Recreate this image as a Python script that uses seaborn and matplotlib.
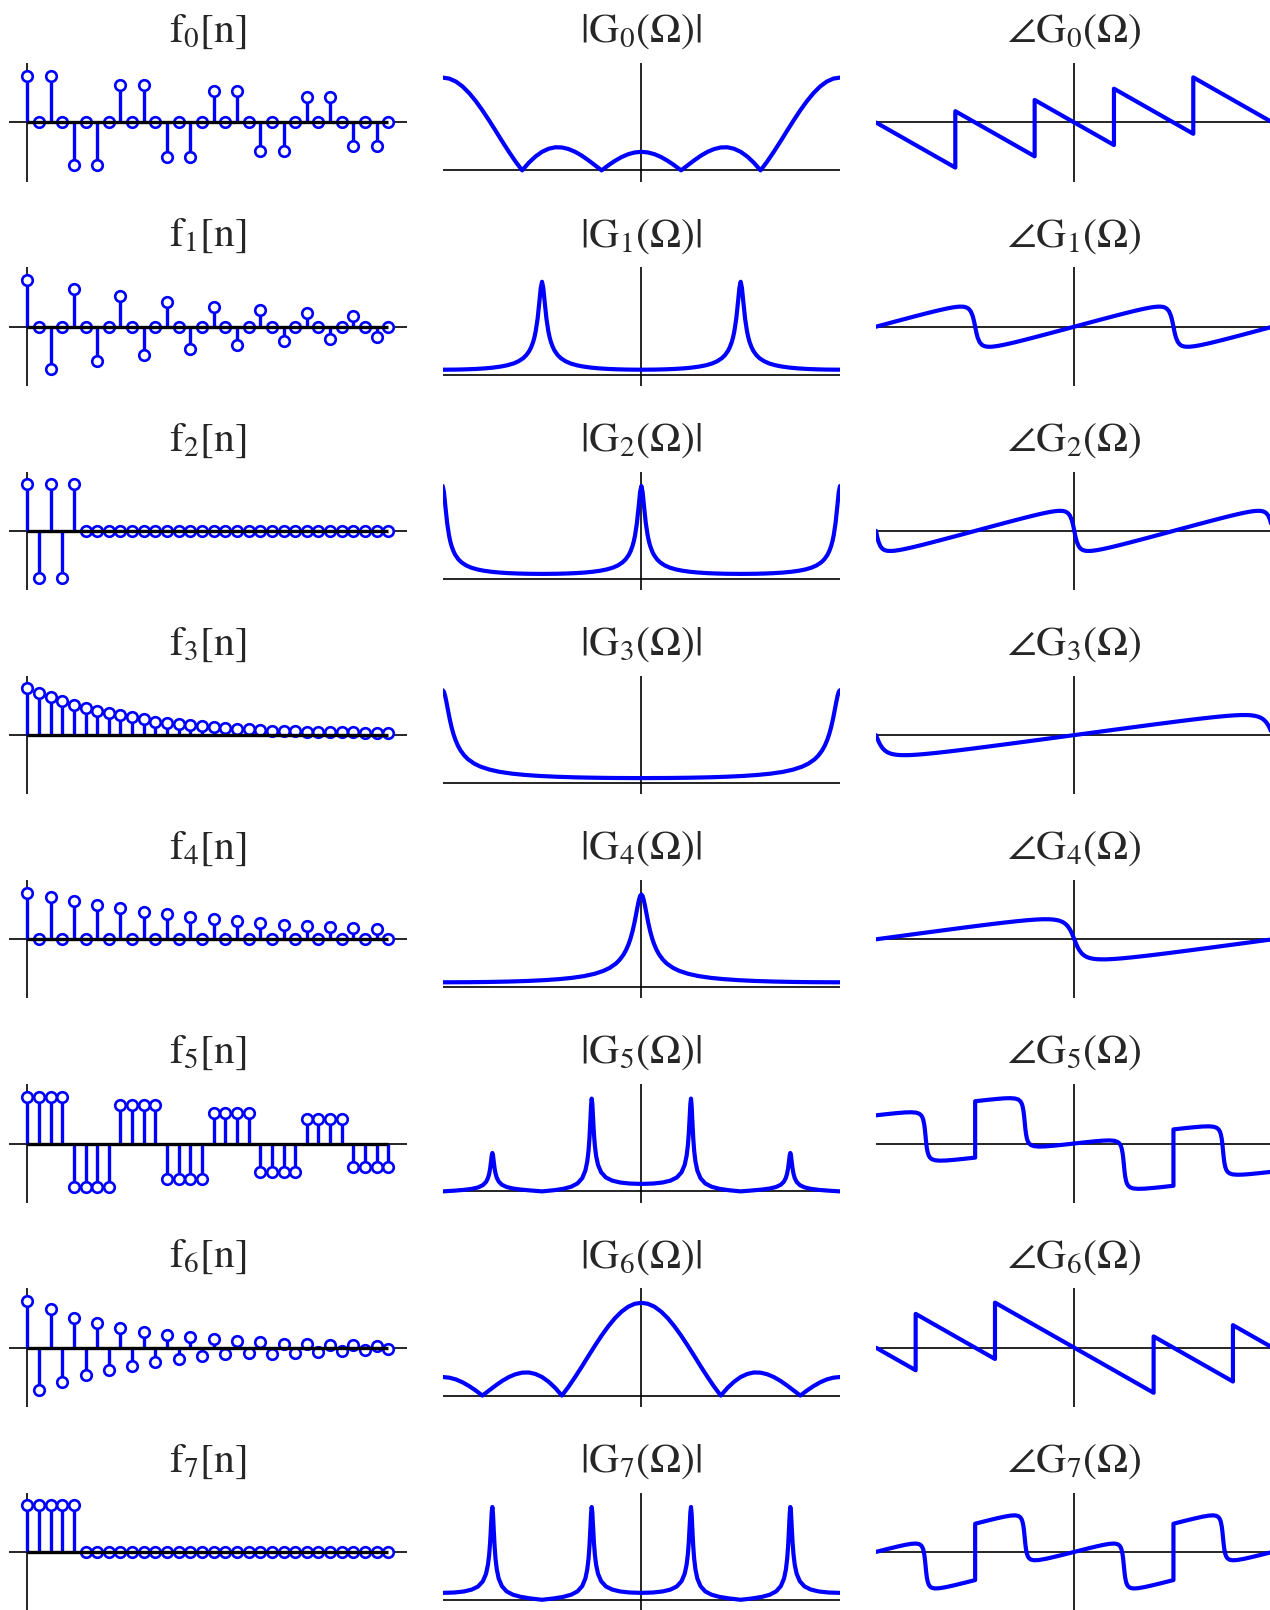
import matplotlib
matplotlib.use("Agg")
import matplotlib.pyplot as plt
import numpy as np
import pandas as pd
import seaborn as sns

sns.set_theme(style="white")
plt.rcParams["font.family"] = ["STIXGeneral", "DejaVu Serif"]
plt.rcParams["mathtext.fontset"] = "stix"

BLUE = "#0000ff"

# ---------------- sequences f_k[n] (left column) ----------------
n_idx = list(range(32))
f0 = [1, 0, 1, 0, -0.907, 0, -0.907, 0, 0.807, 0, 0.807, 0, -0.743, 0, -0.743, 0,
      0.664, 0, 0.664, 0, -0.6, 0, -0.6, 0, 0.536, 0, 0.536, 0, -0.493, 0, -0.493, 0]
f1 = [1, 0, -0.914, 0, 0.814, 0, -0.743, 0, 0.664, 0, -0.6, 0, 0.536, 0, -0.486, 0,
      0.429, 0, -0.393, 0, 0.35, 0, -0.314, 0, 0.286, 0, -0.257, 0, 0.236, 0, -0.214, 0]
f2 = [1, -1, 1, -1, 1, 0, 0, 0, 0, 0, 0, 0, 0, 0, 0, 0,
      0, 0, 0, 0, 0, 0, 0, 0, 0, 0, 0, 0, 0, 0, 0, 0]
f3 = [1.0, 0.895, 0.811, 0.72, 0.65, 0.58, 0.517, 0.469, 0.427, 0.378, 0.336, 0.287,
      0.266, 0.231, 0.21, 0.189, 0.168, 0.147, 0.14, 0.126, 0.112, 0.098, 0.091, 0.077,
      0.07, 0.07, 0.063, 0.056, 0.056, 0.049, 0.049, 0.049]
f4 = [1, 0, 0.894, 0, 0.809, 0, 0.73, 0, 0.66, 0, 0.589, 0, 0.532, 0, 0.482, 0,
      0.433, 0, 0.383, 0, 0.348, 0, 0.312, 0, 0.277, 0, 0.255, 0, 0.234, 0, 0.213, 0]
f5 = [1, 1, 1, 1, -0.93, -0.93, -0.93, -0.93, 0.814, 0.814, 0.814, 0.814,
      -0.757, -0.757, -0.757, -0.757, 0.657, 0.657, 0.657, 0.657, -0.607, -0.607, -0.607, -0.607,
      0.514, 0.514, 0.514, 0.514, -0.5, -0.5, -0.5, -0.5]
f6 = [1, -0.9, 0.824, -0.732, 0.641, -0.59, 0.528, -0.486, 0.43, -0.387, 0.345, -0.31,
      0.275, -0.246, 0.225, -0.183, 0.176, -0.134, 0.141, -0.113, 0.113, -0.127, 0.085, -0.106,
      0.077, -0.092, 0.056, -0.063, 0.049, -0.056, 0.042, -0.028]
f7 = [1, 1, 1, 1, 1, 0, 0, 0, 0, 0, 0, 0, 0, 0, 0, 0,
      0, 0, 0, 0, 0, 0, 0, 0, 0, 0, 0, 0, 0, 0, 0, 0]

# ---------------- spectra (middle: normalised magnitude, right: phase in rad) ----------------
omega_30 = [-3.1416, -3.0369, -2.9322, -2.8274, -2.7227, -2.6180, -2.5133, -2.4086, -2.3038, -2.1991,
            -2.0944, -1.9897, -1.8850, -1.7802, -1.6755, -1.5708, -1.4661, -1.3614, -1.2566, -1.1519,
            -1.0472, -0.9425, -0.8378, -0.7330, -0.6283, -0.5236, -0.4189, -0.3142, -0.2094, -0.1047,
            0.0, 0.1047, 0.2094, 0.3142, 0.4189, 0.5236, 0.6283, 0.7330, 0.8378, 0.9425,
            1.0472, 1.1519, 1.2566, 1.3614, 1.4661, 1.5708, 1.6755, 1.7802, 1.8850, 1.9897,
            2.0944, 2.1991, 2.3038, 2.4086, 2.5133, 2.6180, 2.7227, 2.8274, 2.9322, 3.0369, 3.1416]

mag_g0 = [1.0, 0.989, 0.957, 0.904, 0.833, 0.746, 0.647, 0.539, 0.426, 0.311, 0.2, 0.095, 0.0,
          0.082, 0.149, 0.2, 0.233, 0.249, 0.247, 0.230, 0.2, 0.159, 0.109, 0.055, 0.0, 0.054,
          0.102, 0.143, 0.174, 0.193, 0.2,
          0.193, 0.174, 0.143, 0.102, 0.054, 0.0, 0.055, 0.109, 0.159, 0.2, 0.230, 0.247, 0.249,
          0.233, 0.2, 0.149, 0.082, 0.0, 0.095, 0.2, 0.311, 0.426, 0.539, 0.647, 0.746, 0.833,
          0.904, 0.957, 0.989, 1.0]
omega_ph_g0 = [-3.1416, -1.8850, -1.8850, -0.6283, -0.6283, 0.0, 0.6283, 0.6283, 1.8850, 1.8850, 3.1416]
phase_g0 = [0.0, -2.5133, 0.6283, -1.8850, 1.2566, 0.0, -1.2566, 1.8850, -0.6283, 2.5133, 0.0]

omega_g1 = [-3.1416, -2.9208, -2.7708, -2.6208, -2.4708, -2.3408, -2.2208, -2.1208, -2.0208, -1.9408,
            -1.8708, -1.8208, -1.7708, -1.7408, -1.7108, -1.6908, -1.6708, -1.6408, -1.6108, -1.5908,
            -1.5708, -1.5508, -1.5308, -1.5008, -1.4708, -1.4508, -1.4308, -1.4008, -1.3708, -1.3208,
            -1.2708, -1.2008, -1.1208, -1.0208, -0.9208, -0.8008, -0.6708, -0.5208, -0.3708, -0.2208,
            0.0, 0.2208, 0.3708, 0.5208, 0.6708, 0.8008, 0.9208, 1.0208, 1.1208, 1.2008,
            1.2708, 1.3208, 1.3708, 1.4008, 1.4308, 1.4508, 1.4708, 1.5008, 1.5308, 1.5508,
            1.5708, 1.5908, 1.6108, 1.6408, 1.6708, 1.6908, 1.7108, 1.7408, 1.7708, 1.8208,
            1.8708, 1.9408, 2.0208, 2.1208, 2.2208, 2.3408, 2.4708, 2.6208, 2.7708, 2.9208, 3.1416]
mag_g1 = [0.0526, 0.0539, 0.0565, 0.0606, 0.0671, 0.0755, 0.0868, 0.1003, 0.120, 0.1442,
          0.1756, 0.2083, 0.256, 0.2974, 0.353, 0.403, 0.467, 0.602, 0.797, 0.935,
          1.0, 0.935, 0.797, 0.602, 0.467, 0.403, 0.353, 0.2974, 0.256, 0.2083,
          0.1756, 0.1442, 0.120, 0.1003, 0.0868, 0.0755, 0.0671, 0.0606, 0.0565, 0.0539,
          0.0526, 0.0539, 0.0565, 0.0606, 0.0671, 0.0755, 0.0868, 0.1003, 0.120, 0.1442,
          0.1756, 0.2083, 0.256, 0.2974, 0.353, 0.403, 0.467, 0.602, 0.797, 0.935,
          1.0, 0.935, 0.797, 0.602, 0.467, 0.403, 0.353, 0.2974, 0.256, 0.2083,
          0.1756, 0.1442, 0.120, 0.1003, 0.0868, 0.0755, 0.0671, 0.0606, 0.0565, 0.0539, 0.0526]
phase_g1 = [0.0, 0.2090, 0.3503, 0.4904, 0.6288, 0.7465, 0.8518, 0.9351, 1.0121, 1.0661,
            1.1023, 1.1178, 1.1168, 1.1035, 1.0734, 1.0393, 0.9877, 0.8572, 0.6106, 0.3434,
            0.0, -0.3434, -0.6106, -0.8572, -0.9877, -1.0393, -1.0734, -1.1035, -1.1168, -1.1178,
            -1.1023, -1.0661, -1.0121, -0.9351, -0.8518, -0.7465, -0.6288, -0.4904, -0.3503, -0.2090,
            0.0, 0.2090, 0.3503, 0.4904, 0.6288, 0.7465, 0.8518, 0.9351, 1.0121, 1.0661,
            1.1023, 1.1178, 1.1168, 1.1035, 1.0734, 1.0393, 0.9877, 0.8572, 0.6106, 0.3434,
            0.0, -0.3434, -0.6106, -0.8572, -0.9877, -1.0393, -1.0734, -1.1035, -1.1168, -1.1178,
            -1.1023, -1.0661, -1.0121, -0.9351, -0.8518, -0.7465, -0.6288, -0.4904, -0.3503, -0.2090, 0.0]

omega_g2 = [-3.1416, -3.1216, -3.1016, -3.0716, -3.0416, -3.0216, -3.0016, -2.9716, -2.9416, -2.8916,
            -2.8416, -2.7716, -2.6916, -2.5916, -2.4916, -2.3716, -2.2416, -2.0916, -1.9416, -1.7916,
            -1.5708, -1.35, -1.2, -1.05, -0.9, -0.77, -0.65, -0.55, -0.45, -0.37,
            -0.3, -0.25, -0.2, -0.17, -0.14, -0.12, -0.1, -0.07, -0.04, -0.02,
            0.0, 0.02, 0.04, 0.07, 0.1, 0.12, 0.14, 0.17, 0.2, 0.25,
            0.3, 0.37, 0.45, 0.55, 0.65, 0.77, 0.9, 1.05, 1.2, 1.35,
            1.5708, 1.7916, 1.9416, 2.0916, 2.2416, 2.3716, 2.4916, 2.5916, 2.6916, 2.7716,
            2.8416, 2.8916, 2.9416, 2.9716, 3.0016, 3.0216, 3.0416, 3.0716, 3.1016, 3.1216, 3.1416]
mag_g2 = [1.0, 0.935, 0.797, 0.602, 0.467, 0.403, 0.353, 0.2974, 0.256, 0.2083,
          0.1756, 0.1442, 0.120, 0.1003, 0.0868, 0.0755, 0.0671, 0.0606, 0.0565, 0.0539,
          0.0526, 0.0539, 0.0565, 0.0606, 0.0671, 0.0755, 0.0868, 0.1003, 0.120, 0.1442,
          0.1756, 0.2083, 0.256, 0.2974, 0.353, 0.403, 0.467, 0.602, 0.797, 0.935,
          1.0, 0.935, 0.797, 0.602, 0.467, 0.403, 0.353, 0.2974, 0.256, 0.2083,
          0.1756, 0.1442, 0.120, 0.1003, 0.0868, 0.0755, 0.0671, 0.0606, 0.0565, 0.0539,
          0.0526, 0.0539, 0.0565, 0.0606, 0.0671, 0.0755, 0.0868, 0.1003, 0.120, 0.1442,
          0.1756, 0.2083, 0.256, 0.2974, 0.353, 0.403, 0.467, 0.602, 0.797, 0.935, 1.0]
phase_g2 = [0.0, -0.3434, -0.6106, -0.8572, -0.9877, -1.0393, -1.0734, -1.1035, -1.1168, -1.1178,
            -1.1023, -1.0661, -1.0121, -0.9351, -0.8518, -0.7465, -0.6288, -0.4904, -0.3503, -0.2090,
            0.0, 0.2090, 0.3503, 0.4904, 0.6288, 0.7465, 0.8518, 0.9351, 1.0121, 1.0661,
            1.1023, 1.1178, 1.1168, 1.1035, 1.0734, 1.0393, 0.9877, 0.8572, 0.6106, 0.3434,
            0.0, -0.3434, -0.6106, -0.8572, -0.9877, -1.0393, -1.0734, -1.1035, -1.1168, -1.1178,
            -1.1023, -1.0661, -1.0121, -0.9351, -0.8518, -0.7465, -0.6288, -0.4904, -0.3503, -0.2090,
            0.0, 0.2090, 0.3503, 0.4904, 0.6288, 0.7465, 0.8518, 0.9351, 1.0121, 1.0661,
            1.1023, 1.1178, 1.1168, 1.1035, 1.0734, 1.0393, 0.9877, 0.8572, 0.6106, 0.3434, 0.0]

omega_g3 = [-3.1416, -3.1216, -3.1016, -3.0816, -3.0616, -3.0316, -3.0016, -2.9716, -2.9416, -2.9016,
            -2.8616, -2.8016, -2.7416, -2.6416, -2.5416, -2.4016, -2.2416, -2.0416, -1.8416, -1.6016,
            -1.3416, -1.0416, -0.7416, -0.4416, 0.0,
            0.4416, 0.7416, 1.0416, 1.3416, 1.6016, 1.8416, 2.0416, 2.2416, 2.4016, 2.5416,
            2.6416, 2.7416, 2.8016, 2.8616, 2.9016, 2.9416, 2.9716, 3.0016, 3.0316, 3.0616,
            3.0816, 3.1016, 3.1216, 3.1416]
mag_g3 = [1.0, 0.9825, 0.935, 0.8691, 0.797, 0.692, 0.602, 0.5274, 0.467, 0.403,
          0.353, 0.2974, 0.256, 0.2083, 0.1756, 0.1442, 0.120, 0.1003, 0.0868, 0.0755,
          0.0671, 0.0606, 0.0565, 0.0539, 0.0526,
          0.0539, 0.0565, 0.0606, 0.0671, 0.0755, 0.0868, 0.1003, 0.120, 0.1442, 0.1756,
          0.2083, 0.256, 0.2974, 0.353, 0.403, 0.467, 0.5274, 0.602, 0.692, 0.797,
          0.8691, 0.935, 0.9825, 1.0]
phase_g3 = [0.0, -0.1778, -0.3434, -0.4880, -0.6106, -0.7531, -0.8572, -0.9327, -0.9877, -1.0393,
            -1.0734, -1.1035, -1.1168, -1.1178, -1.1023, -1.0661, -1.0121, -0.9351, -0.8518, -0.7465,
            -0.6288, -0.4904, -0.3503, -0.2090, 0.0,
            0.2090, 0.3503, 0.4904, 0.6288, 0.7465, 0.8518, 0.9351, 1.0121, 1.0661, 1.1023,
            1.1178, 1.1168, 1.1035, 1.0734, 1.0393, 0.9877, 0.9327, 0.8572, 0.7531, 0.6106,
            0.4880, 0.3434, 0.1778, 0.0]

omega_g4 = [-3.1416, -2.7, -2.4, -2.1, -1.8, -1.54, -1.3, -1.1, -0.9, -0.74,
            -0.6, -0.5, -0.4, -0.34, -0.28, -0.24, -0.2, -0.17, -0.14, -0.11,
            -0.08, -0.06, -0.04, -0.02, 0.0, 0.02, 0.04, 0.06, 0.08, 0.11,
            0.14, 0.17, 0.2, 0.24, 0.28, 0.34, 0.4, 0.5, 0.6, 0.74,
            0.9, 1.1, 1.3, 1.54, 1.8, 2.1, 2.4, 2.7, 3.1416]
mag_g4 = [0.0526, 0.0539, 0.0565, 0.0606, 0.0671, 0.0755, 0.0868, 0.1003, 0.120, 0.1442,
          0.1756, 0.2083, 0.256, 0.2974, 0.353, 0.403, 0.467, 0.5274, 0.602, 0.692,
          0.797, 0.8691, 0.935, 0.9825, 1.0, 0.9825, 0.935, 0.8691, 0.797, 0.692,
          0.602, 0.5274, 0.467, 0.403, 0.353, 0.2974, 0.256, 0.2083, 0.1756, 0.1442,
          0.120, 0.1003, 0.0868, 0.0755, 0.0671, 0.0606, 0.0565, 0.0539, 0.0526]
phase_g4 = [0.0, 0.2090, 0.3503, 0.4904, 0.6288, 0.7465, 0.8518, 0.9351, 1.0121, 1.0661,
            1.1023, 1.1178, 1.1168, 1.1035, 1.0734, 1.0393, 0.9877, 0.9327, 0.8572, 0.7531,
            0.6106, 0.4880, 0.3434, 0.1778, 0.0, -0.1778, -0.3434, -0.4880, -0.6106, -0.7531,
            -0.8572, -0.9327, -0.9877, -1.0393, -1.0734, -1.1035, -1.1168, -1.1178, -1.1023, -1.0661,
            -1.0121, -0.9351, -0.8518, -0.7465, -0.6288, -0.4904, -0.3503, -0.2090, 0.0]

omega_q = [-3.1416, -2.9562, -2.8062, -2.6812, -2.5812, -2.5062, -2.4562, -2.4262, -2.4062, -2.3912,
           -2.3762, -2.3662, -2.3562, -2.3462, -2.3362, -2.3212, -2.3062, -2.2862, -2.2562, -2.2062,
           -2.1312, -2.0312, -1.9062, -1.7562, -1.5708,
           -1.5708, -1.3854, -1.2354, -1.1104, -1.0104, -0.9354, -0.8854, -0.8554, -0.8354, -0.8204,
           -0.8054, -0.7954, -0.7854, -0.7754, -0.7654, -0.7504, -0.7354, -0.7154, -0.6854, -0.6354,
           -0.5604, -0.4604, -0.3354, -0.1854, 0.0,
           0.1854, 0.3354, 0.4604, 0.5604, 0.6354, 0.6854, 0.7154, 0.7354, 0.7504, 0.7654,
           0.7754, 0.7854, 0.7954, 0.8054, 0.8204, 0.8354, 0.8554, 0.8854, 0.9354, 1.0104,
           1.1104, 1.2354, 1.3854, 1.5708,
           1.5708, 1.7562, 1.9062, 2.0312, 2.1312, 2.2062, 2.2562, 2.2862, 2.3062, 2.3212,
           2.3362, 2.3462, 2.3562, 2.3662, 2.3762, 2.3912, 2.4062, 2.4262, 2.4562, 2.5062,
           2.5812, 2.6812, 2.8062, 2.9562, 3.1416]

mag_g5 = [0.0, 0.0079, 0.0162, 0.0272, 0.0430, 0.0676, 0.1019, 0.1428, 0.1906, 0.2470,
          0.3286, 0.3865, 0.4142, 0.3881, 0.3313, 0.2507, 0.1946, 0.1470, 0.1063, 0.0719,
          0.0473, 0.0311, 0.0196, 0.0102, 0.0,
          0.0, 0.0123, 0.0276, 0.0502, 0.0854, 0.1424, 0.2242, 0.3223, 0.4382, 0.5761,
          0.7775, 0.9235, 1.0, 0.9461, 0.8160, 0.6270, 0.4946, 0.3821, 0.2858, 0.2055,
          0.1495, 0.1159, 0.0956, 0.0846, 0.0805,
          0.0846, 0.0956, 0.1159, 0.1495, 0.2055, 0.2858, 0.3821, 0.4946, 0.6270, 0.8160,
          0.9461, 1.0, 0.9235, 0.7775, 0.5761, 0.4382, 0.3223, 0.2242, 0.1424, 0.0854,
          0.0502, 0.0276, 0.0123, 0.0,
          0.0, 0.0102, 0.0196, 0.0311, 0.0473, 0.0719, 0.1063, 0.1470, 0.1946, 0.2507,
          0.3313, 0.3881, 0.4142, 0.3865, 0.3286, 0.2470, 0.1906, 0.1428, 0.1019, 0.0676,
          0.0430, 0.0272, 0.0162, 0.0079, 0.0]
phase_g5 = [1.5708, 1.6430, 1.6965, 1.7320, 1.7423, 1.7200, 1.6595, 1.5711, 1.4554, 1.3024,
            1.0333, 0.7511, 0.3927, 0.0343, -0.2479, -0.5170, -0.6700, -0.7857, -0.8741, -0.9346,
            -0.9569, -0.9466, -0.9111, -0.8576, -0.7854,
            2.3562, 2.4284, 2.4819, 2.5174, 2.5277, 2.5054, 2.4449, 2.3565, 2.2408, 2.0878,
            1.8187, 1.5365, 1.1781, 0.8197, 0.5375, 0.2684, 0.1154, -0.0003, -0.0887, -0.1492,
            -0.1715, -0.1612, -0.1257, -0.0722, 0.0,
            0.0722, 0.1257, 0.1612, 0.1715, 0.1492, 0.0887, 0.0003, -0.1154, -0.2684, -0.5375,
            -0.8197, -1.1781, -1.5365, -1.8187, -2.0878, -2.2408, -2.3565, -2.4449, -2.5054, -2.5277,
            -2.5174, -2.4819, -2.4284, -2.3562,
            0.7854, 0.8576, 0.9111, 0.9466, 0.9569, 0.9346, 0.8741, 0.7857, 0.6700, 0.5170,
            0.2479, -0.0343, -0.3927, -0.7511, -1.0333, -1.3024, -1.4554, -1.5711, -1.6595, -1.7200,
            -1.7423, -1.7320, -1.6965, -1.6430, -1.5708]

mag_g6 = [0.2, 0.193, 0.174, 0.143, 0.102, 0.054, 0.0, 0.055, 0.109, 0.159, 0.2, 0.230, 0.247,
          0.249, 0.233, 0.2, 0.149, 0.082, 0.0, 0.095, 0.2, 0.311, 0.426, 0.539, 0.647, 0.746,
          0.833, 0.904, 0.957, 0.989, 1.0,
          0.989, 0.957, 0.904, 0.833, 0.746, 0.647, 0.539, 0.426, 0.311, 0.2, 0.095, 0.0, 0.082,
          0.149, 0.2, 0.233, 0.249, 0.247, 0.230, 0.2, 0.159, 0.109, 0.055, 0.0, 0.054, 0.102,
          0.143, 0.174, 0.193, 0.2]
omega_ph_g6 = [-3.1416, -2.5133, -2.5133, -1.2566, -1.2566, 0.0, 1.2566, 1.2566, 2.5133, 2.5133, 3.1416]
phase_g6 = [0.0, -1.2566, 1.8850, -0.6283, 2.5133, 0.0, -2.5133, 0.6283, -1.8850, 1.2566, 0.0]

mag_g7 = [0.0744, 0.0785, 0.0896, 0.1100, 0.1437, 0.1999, 0.2803, 0.3768, 0.4897, 0.6227,
          0.8129, 0.9444, 1.0, 0.9255, 0.7808, 0.5805, 0.4430, 0.3274, 0.2291, 0.1474,
          0.0903, 0.0547, 0.0313, 0.0147, 0.0,
          0.0, 0.0147, 0.0313, 0.0547, 0.0903, 0.1474, 0.2291, 0.3274, 0.4430, 0.5805,
          0.7808, 0.9255, 1.0, 0.9444, 0.8129, 0.6227, 0.4897, 0.3768, 0.2803, 0.1999,
          0.1437, 0.1100, 0.0896, 0.0785, 0.0744,
          0.0785, 0.0896, 0.1100, 0.1437, 0.1999, 0.2803, 0.3768, 0.4897, 0.6227, 0.8129,
          0.9444, 1.0, 0.9255, 0.7808, 0.5805, 0.4430, 0.3274, 0.2291, 0.1474, 0.0903,
          0.0547, 0.0313, 0.0147, 0.0,
          0.0, 0.0147, 0.0313, 0.0547, 0.0903, 0.1474, 0.2291, 0.3274, 0.4430, 0.5805,
          0.7808, 0.9255, 1.0, 0.9444, 0.8129, 0.6227, 0.4897, 0.3768, 0.2803, 0.1999,
          0.1437, 0.1100, 0.0896, 0.0785, 0.0744]
phase_g7 = [0.0, 0.1649, 0.2934, 0.3914, 0.4517, 0.4669, 0.4314, 0.3580, 0.2523, 0.1068,
            -0.1548, -0.4320, -0.7854, -1.1388, -1.4160, -1.6776, -1.8231, -1.9288, -2.0022, -2.0377,
            -2.0225, -1.9622, -1.8642, -1.7357, -1.5708,
            1.5708, 1.7357, 1.8642, 1.9622, 2.0225, 2.0377, 2.0022, 1.9288, 1.8231, 1.6776,
            1.4160, 1.1388, 0.7854, 0.4320, 0.1548, -0.1068, -0.2523, -0.3580, -0.4314, -0.4669,
            -0.4517, -0.3914, -0.2934, -0.1649, 0.0,
            0.1649, 0.2934, 0.3914, 0.4517, 0.4669, 0.4314, 0.3580, 0.2523, 0.1068, -0.1548,
            -0.4320, -0.7854, -1.1388, -1.4160, -1.6776, -1.8231, -1.9288, -2.0022, -2.0377, -2.0225,
            -1.9622, -1.8642, -1.7357, -1.5708,
            1.5708, 1.7357, 1.8642, 1.9622, 2.0225, 2.0377, 2.0022, 1.9288, 1.8231, 1.6776,
            1.4160, 1.1388, 0.7854, 0.4320, 0.1548, -0.1068, -0.2523, -0.3580, -0.4314, -0.4669,
            -0.4517, -0.3914, -0.2934, -0.1649, 0.0]

sequences = [f0, f1, f2, f3, f4, f5, f6, f7]
magnitudes = [(omega_30, mag_g0), (omega_g1, mag_g1), (omega_g2, mag_g2), (omega_g3, mag_g3),
              (omega_g4, mag_g4), (omega_q, mag_g5), (omega_30, mag_g6), (omega_q, mag_g7)]
phases = [(omega_ph_g0, phase_g0), (omega_g1, phase_g1), (omega_g2, phase_g2), (omega_g3, phase_g3),
          (omega_g4, phase_g4), (omega_q, phase_g5), (omega_ph_g6, phase_g6), (omega_q, phase_g7)]

# ---------------- layout ----------------
W, H = 1270, 1610
fig = plt.figure(figsize=(W / 100, H / 100), dpi=100)
fig.patch.set_facecolor("white")
COL_X = [9, 442.7, 876]
COL_W = [398, 397.3, 396.6]
TOP0, PITCH, AX_H = 63.3, 204.2, 118.4
TITLE_Y = 1.18
TITLE_FS = 30


def make_ax(r, c):
    top = TOP0 + PITCH * r
    return fig.add_axes([COL_X[c] / W, 1 - (top + AX_H) / H, COL_W[c] / W, AX_H / H])


def axes_lines(ax):
    ax.axhline(0, color="black", lw=1.2, zorder=1)
    ax.axvline(0, color="black", lw=1.2, zorder=1)


for k in range(8):
    # stem plot
    ax = make_ax(k, 0)
    df = pd.DataFrame({"n": n_idx, "v": sequences[k]})
    axes_lines(ax)
    ax.vlines(df["n"], 0, df["v"], color=BLUE, lw=2.4, zorder=2)
    sns.scatterplot(data=df, x="n", y="v", ax=ax, s=7.6 ** 2, color="white",
                    edgecolor=BLUE, linewidth=1.9, zorder=3, legend=False)
    ax.plot([df["n"].min(), df["n"].max()], [0, 0], color="black", lw=2.4,
            solid_capstyle="butt", zorder=4)
    ax.set_xlim(-1.57, 32.6)
    ax.set_ylim(-1.265, 1.265)
    ax.set_axis_off()
    ax.text(0.5, TITLE_Y, rf"$\mathrm{{f}}_{{{k}}}[\mathrm{{n}}]$", transform=ax.transAxes,
            ha="center", va="baseline", fontsize=TITLE_FS)

    # magnitude
    ax = make_ax(k, 1)
    axes_lines(ax)
    om, mg = magnitudes[k]
    sns.lineplot(x=om, y=mg, ax=ax, color=BLUE, lw=3.0, sort=False, estimator=None, zorder=3)
    ax.set_xlim(-np.pi, np.pi)
    ax.set_ylim(-0.122, 1.154)
    ax.set_axis_off()
    ax.text(0.5, TITLE_Y, rf"$|\mathrm{{G}}_{{{k}}}(\Omega)|$", transform=ax.transAxes,
            ha="center", va="baseline", fontsize=TITLE_FS)

    # phase
    ax = make_ax(k, 2)
    axes_lines(ax)
    om, ph = phases[k]
    sns.lineplot(x=om, y=ph, ax=ax, color=BLUE, lw=3.0, sort=False, estimator=None, zorder=3)
    ax.set_xlim(-np.pi, np.pi)
    ax.set_ylim(-3.3, 3.3)
    ax.set_axis_off()
    ax.text(0.5, TITLE_Y, rf"$\angle\mathrm{{G}}_{{{k}}}(\Omega)$", transform=ax.transAxes,
            ha="center", va="baseline", fontsize=TITLE_FS)

fig.savefig("out.png", dpi=100, facecolor="white")
